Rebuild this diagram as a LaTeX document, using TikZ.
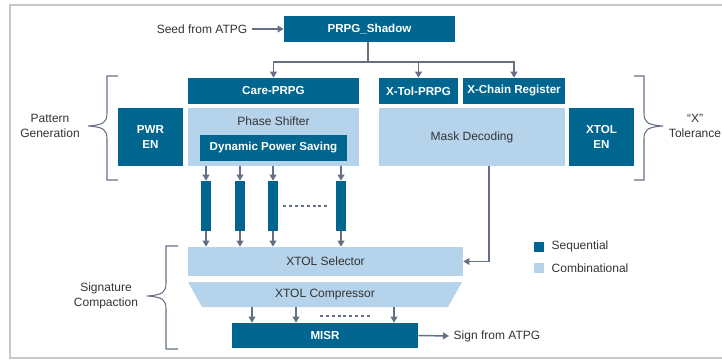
\documentclass[tikz,border=0pt]{standalone}
\usepackage{fontspec}
\setmainfont{Liberation Sans}
\usetikzlibrary{arrows.meta}

\definecolor{seqblue}{HTML}{00658F}
\definecolor{combblue}{HTML}{B5D3EB}
\definecolor{wiregray}{HTML}{667085}
\definecolor{ink}{HTML}{333333}
\definecolor{framegray}{HTML}{C8C8C8}

\tikzset{
  blk/.style 2 args={minimum width=#1*0.75pt, minimum height=#2*0.75pt},
  seq/.style={fill=seqblue, text=white, font=\fontsize{8.7}{11}\selectfont\bfseries, inner sep=0pt, align=center},
  comb/.style={fill=combblue, text=ink, inner sep=0pt},
  wire/.style={draw=wiregray, line width=1.1pt},
  arr/.style={wire, -{Triangle[length=4.5pt,width=5pt]}},
  brace/.style={draw=wiregray, line width=0.8pt},
  dots/.style={draw=wiregray, line width=0.8pt, dash pattern=on 2.2pt off 2.2pt},
  lbl/.style={text=ink, align=center},
}

\begin{document}
\begin{tikzpicture}[x=0.75pt, y=-0.75pt, font=\fontsize{9}{11}\selectfont]
    \useasboundingbox (0,0) rectangle (722,360);
    \draw[framegray, line width=1.2pt] (730,5) -- (10,5) -- (10,358) -- (730,358);

    % decompressor side
    \node[seq, blk={171}{26}] (shadow) at (369.5,29) {PRPG\_Shadow};
    \node[lbl, anchor=east] (seed) at (252,29) {Seed from ATPG};
    \draw[arr] (seed.east) -- (shadow.west);

    \node[seq, blk={171}{26}] (care) at (273.5,91) {Care-PRPG};
    \node[seq, blk={79}{26}] (xtol) at (418.5,91) {X-Tol-PRPG};
    \node[seq, blk={102}{26}] (xchain) at (514,91) {X-Chain Register};

    \coordinate (split) at (368,62);
    \draw[wire] (shadow.south -| split) -- (split);
    \draw[arr] (split) -| (care.north);
    \draw[arr] (split) -| (xtol.north);
    \draw[arr] (split) -| (xchain.north);

    \node[seq, blk={65}{58}] (pwr) at (150.5,137) {PWR\\EN};
    \node[comb, blk={171}{58}] (ps) at (273.5,137) {};
    \node[lbl] (pstitle) at (273.5,121) {Phase Shifter};
    \node[seq, blk={147}{26}] (dps) at (273.5,148) {Dynamic Power Saving};

    \node[comb, blk={186}{58}] (mask) at (472,137) {Mask Decoding};
    \node[seq, blk={65}{58}] (xtolen) at (601.5,137) {XTOL\\EN};

    % scan chains
    \node[seq, blk={10}{50}] (ch1) at (206,206) {};
    \node[seq, blk={10}{50}] (ch2) at (240,206) {};
    \node[seq, blk={10}{50}] (ch3) at (273,206) {};
    \node[seq, blk={10}{50}] (ch4) at (341,206) {};
    \draw[dots, shorten <=3.75pt, shorten >=4.5pt] (ch3.east) -- (ch4.west);

    % compactor side
    \node[comb, blk={275}{29}] (sel) at (325.5,261.5) {XTOL Selector};
    \fill[combblue] (188,282) -- (462,282) -- (448,307) -- (202,307) -- cycle;
    \node[text=ink, inner sep=0pt, blk={274}{25}] (comp) at (325,294.5) {XTOL Compressor};
    \node[seq, blk={186}{25}] (misr) at (325,335.5) {MISR};
    \node[lbl, anchor=west] (sign) at (449,336) {Sign from ATPG};
    \draw[arr] (misr.east) -- (sign.west);

    \draw[arr] (ps.south -| ch1) -- (ch1.north);
    \draw[arr] (ps.south -| ch2) -- (ch2.north);
    \draw[arr] (ps.south -| ch3) -- (ch3.north);
    \draw[arr] (ps.south -| ch4) -- (ch4.north);
    \draw[arr] (ch1.south) -- (sel.north -| ch1);
    \draw[arr] (ch2.south) -- (sel.north -| ch2);
    \draw[arr] (ch3.south) -- (sel.north -| ch3);
    \draw[arr] (ch4.south) -- (sel.north -| ch4);

    \coordinate (md) at (489,0);
    \draw[arr] (mask.south -| md) |- (sel.east);

    \coordinate (m1) at (252,0);
    \coordinate (m2) at (296,0);
    \coordinate (m3) at (394,0);
    \draw[arr] (comp.south -| m1) -- (misr.north -| m1);
    \draw[arr] (comp.south -| m2) -- (misr.north -| m2);
    \draw[arr] (comp.south -| m3) -- (misr.north -| m3);
    \draw[dots] (320,316) -- (371,316);

    % braces and group labels
    \draw[brace] (118,76) -- (107,76) -- (107,113) .. controls (107,122) and (104,125) .. (88,126)
      .. controls (104,127) and (107,130) .. (107,139) -- (107,180) -- (118,180);
    \node[lbl] (patgen) at (50,126) {Pattern\\Generation};

    \draw[brace] (634,76) -- (644,76) -- (644,113) .. controls (644,122) and (647,125) .. (663,126)
      .. controls (647,127) and (644,130) .. (644,139) -- (644,180) -- (634,180);
    \node[lbl] (xtolgrp) at (695,126) {“X”\\Tolerance};

    \draw[brace] (178,246) -- (166,246) -- (166,283) .. controls (166,292) and (163,295) .. (147,296)
      .. controls (163,297) and (166,300) .. (166,309) -- (166,349) -- (178,349);
    \node[lbl] (sigcomp) at (106,296) {Signature\\Compaction};

    % legend
    \node[seq, minimum size=7.5pt] (keyseq) at (539,246.5) {};
    \node[lbl, anchor=west] (keyseqtxt) at (547,246) {Sequential};
    \node[comb, minimum size=7.5pt] (keycomb) at (539,267.5) {};
    \node[lbl, anchor=west] (keycombtxt) at (547,268) {Combinational};
\end{tikzpicture}
\end{document}
